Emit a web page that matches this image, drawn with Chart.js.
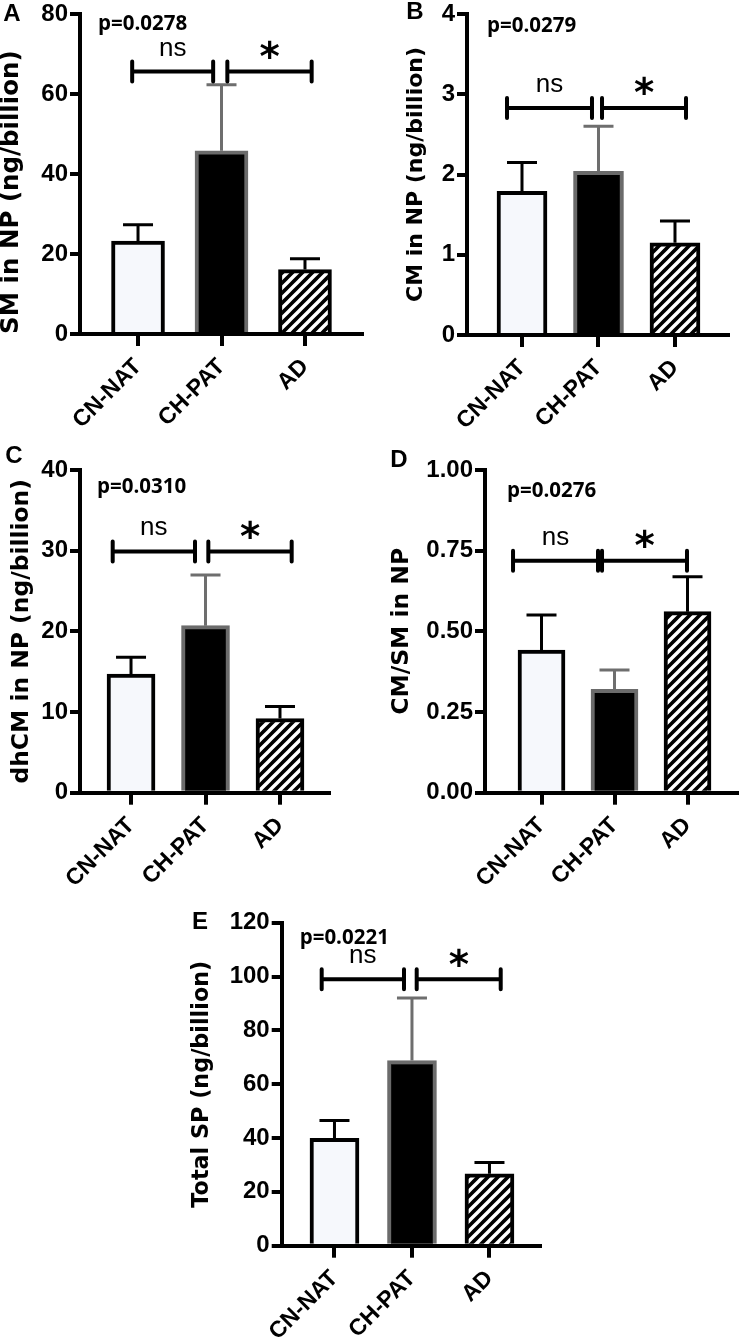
<!DOCTYPE html>
<html><head><meta charset="utf-8">
<script src="https://cdn.jsdelivr.net/npm/chart.js@4.4.1/dist/chart.umd.min.js"></script>
<style>
html,body{margin:0;padding:0;background:#fff;width:739px;height:1344px;overflow:hidden;position:relative}
</style></head><body>
<script>
// ---------- data ----------
const categories = ['CN-NAT', 'CH-PAT', 'AD'];

const smMean = [23.2, 45.8, 16.1];
const smErr = [4.1, 16.5, 2.7];

const cmMean = [1.79, 2.04, 1.15];
const cmErr = [0.36, 0.56, 0.27];

const dhcmMean = [14.7, 20.7, 9.2];
const dhcmErr = [2.1, 6.3, 1.5];

const ratioMean = [0.442, 0.320, 0.561];
const ratioErr = [0.109, 0.060, 0.108];

const totalMean = [39.9, 68.8, 26.7];
const totalErr = [6.6, 23.2, 4.2];

const pValues = ['p=0.0278', 'p=0.0279', 'p=0.0310', 'p=0.0276', 'p=0.0221'];
const sigLabels = ['ns', '*'];
const yTitles = ['SM in NP (ng/billion)', 'CM in NP (ng/billion)', 'dhCM in NP (ng/billion)', 'CM/SM in NP', 'Total SP (ng/billion)'];
const yMax = [80, 4, 40, 1, 120];
const yStep = [20, 1, 10, 0.25, 20];
const yDecimals = [0, 0, 0, 2, 0];
const bracketLevel = [65.6, 2.83, 29.9, 0.719, 99.0];
const panelLetters = ['A', 'B', 'C', 'D', 'E'];

// ---------- layout (pixels) ----------
const layoutCfg = [
  {box:[0,0,370,440], area:[80,12,362,334], xr:[-0.695,2.683], barW:53, tSize:24.5, tAlign:'start', tX:12, letter:[12,14], pOff:[18,16], br:[[-0.07,0.90],[1.07,2.08]]},
  {box:[370,0,369,440], area:[467,12.7,728,335], xr:[-0.719,2.693], barW:50, tSize:22, tAlign:'center', tX:416, letter:[415,12.5], pOff:[20,18], br:[[-0.196,0.915],[1.046,2.144]]},
  {box:[0,440,370,470], area:[80,470,329,792.7], xr:[-0.685,2.658], barW:48, tSize:23.4, tAlign:'center', tX:22, letter:[14,456], pOff:[17,23], br:[[-0.246,0.859],[1.038,2.157]]},
  {box:[370,440,369,470], area:[485,470,737,792.7], xr:[-0.774,2.678], barW:47, tSize:23.4, tAlign:'center', tX:402, letter:[399,460], pOff:[22,27], br:[[-0.39,0.774],[0.829,1.993]]},
  {box:[180,880,380,464], area:[281.7,922.7,540,1245.7], xr:[-0.681,2.652], barW:49, tSize:22.3, tAlign:'center', tX:202, letter:[200,922], pOff:[18,21], br:[[-0.165,0.897],[1.061,2.145]]}
];
const means = [smMean, cmMean, dhcmMean, ratioMean, totalMean];
const errs = [smErr, cmErr, dhcmErr, ratioErr, totalErr];

const SANS = "'Liberation Sans', Arial, sans-serif";

function makeHatch(ctx){
  const t = document.createElement('canvas'); t.width = 10; t.height = 10;
  const g = t.getContext('2d');
  g.fillStyle = '#000'; g.fillRect(0,0,10,10);
  g.strokeStyle = '#fff'; g.lineWidth = 3.4;
  g.beginPath();
  g.moveTo(-2,12); g.lineTo(12,-2);
  g.moveTo(-7,7); g.lineTo(7,-7);
  g.moveTo(3,17); g.lineTo(17,3);
  g.stroke();
  return ctx.createPattern(t, 'repeat');
}

const extras = {
  id: 'extras',
  afterDatasetsDraw(chart){
    const o = chart.options.plugins.extras;
    const ctx = chart.ctx, xs = chart.scales.x, ys = chart.scales.y, ca = chart.chartArea;
    const meta = chart.getDatasetMeta(0);
    ctx.save();
    // error bars
    meta.data.forEach((el, i) => {
      const top = ys.getPixelForValue(o.mean[i] + o.err[i]);
      ctx.strokeStyle = i === 1 ? '#6e6e6e' : '#000';
      ctx.lineWidth = 3; ctx.lineCap = 'butt';
      ctx.beginPath();
      ctx.moveTo(el.x, el.y); ctx.lineTo(el.x, top);
      ctx.moveTo(el.x - 15, top); ctx.lineTo(el.x + 15, top);
      ctx.stroke();
    });
    // brackets
    const by = ys.getPixelForValue(o.level);
    ctx.strokeStyle = '#000'; ctx.lineWidth = 4;
    const centers = [];
    o.br.forEach(([a, b]) => {
      const xa = xs.getPixelForValue(a), xb = xs.getPixelForValue(b);
      centers.push((xa + xb) / 2);
      ctx.lineCap = 'butt';
      ctx.beginPath(); ctx.moveTo(xa, by); ctx.lineTo(xb, by); ctx.stroke();
      ctx.lineCap = 'round';
      ctx.beginPath(); ctx.moveTo(xa, by - 10); ctx.lineTo(xa, by + 10);
      ctx.moveTo(xb, by - 10); ctx.lineTo(xb, by + 10); ctx.stroke();
    });
    ctx.fillStyle = '#000';
    // ns
    ctx.font = '26px ' + SANS; ctx.textAlign = 'center'; ctx.textBaseline = 'alphabetic';
    ctx.fillText(sigLabels[0], centers[0], by - 16);
    // star
    ctx.font = 'bold 100px "DejaVu Sans"';
    let m = ctx.measureText(sigLabels[1]);
    const w100 = m.actualBoundingBoxLeft + m.actualBoundingBoxRight;
    const fs = 100 * 19 / w100;
    ctx.font = 'bold ' + fs + 'px "DejaVu Sans"';
    ctx.textAlign = 'left';
    m = ctx.measureText(sigLabels[1]);
    const sx = centers[1] - (m.actualBoundingBoxRight - m.actualBoundingBoxLeft) / 2;
    const sy = by - 22 + (m.actualBoundingBoxAscent - m.actualBoundingBoxDescent) / 2;
    ctx.fillText(sigLabels[1], sx, sy);
    // p value
    ctx.font = 'bold 20.5px "Open Sans"'; ctx.textAlign = 'left'; ctx.textBaseline = 'alphabetic';
    ctx.fillText(o.p, ca.left + o.pOff[0], ca.top + o.pOff[1]);
    // panel letter
    ctx.font = 'bold 24px ' + SANS; ctx.textAlign = 'center'; ctx.textBaseline = 'middle';
    ctx.fillText(o.letter, o.letterPos[0], o.letterPos[1]);
    ctx.restore();
  }
};

function makePanel(k){
  const c = layoutCfg[k];
  const [bl, bt, bw, bh] = c.box;
  const cv = document.createElement('canvas');
  cv.width = bw; cv.height = bh;
  cv.style.cssText = 'position:absolute;left:' + bl + 'px;top:' + bt + 'px;width:' + bw + 'px;height:' + bh + 'px';
  document.body.appendChild(cv);
  const ctx = cv.getContext('2d');
  const hatch = makeHatch(ctx);
  const L = c.area[0] - bl, T = c.area[1] - bt, R = c.area[2] - bl, B = c.area[3] - bt;
  const dec = yDecimals[k];
  new Chart(cv, {
    type: 'bar',
    data: {
      datasets: [{
        data: means[k].map((v, i) => ({x: i, y: v})),
        backgroundColor: ['#f6f8fc', '#000000', hatch],
        borderColor: ['#000000', '#6b6b6b', '#000000'],
        borderWidth: 4,
        barThickness: c.barW
      }]
    },
    options: {
      responsive: false, animation: false,
      layout: {padding: {left: 0, top: T, right: bw - R, bottom: 0}},
      plugins: {
        legend: {display: false}, tooltip: {enabled: false},
        extras: {mean: means[k], err: errs[k], level: bracketLevel[k], br: c.br, p: pValues[k], pOff: c.pOff,
                 letter: panelLetters[k], letterPos: [c.letter[0] - bl, c.letter[1] - bt]}
      },
      scales: {
        x: {
          type: 'linear', min: c.xr[0], max: c.xr[1], offset: false,
          afterBuildTicks: s => { s.ticks = categories.map((_, i) => ({value: i})); },
          afterFit: s => { s.height = bh - B; },
          ticks: {callback: v => categories[v], minRotation: 45, maxRotation: 45, autoSkip: false,
                  color: '#000', padding: 9, font: {family: SANS, weight: 'bold', size: 23, lineHeight: 1}},
          grid: {offset: false, drawOnChartArea: false, drawTicks: true, tickLength: 12, lineWidth: 4, color: '#000'},
          border: {display: true, width: 4, color: '#000'}
        },
        y: {
          min: 0, max: yMax[k],
          afterFit: s => { s.width = L; },
          ticks: {stepSize: yStep[k], callback: v => Number(v).toFixed(dec), color: '#000', padding: 2,
                  font: {family: SANS, weight: 'bold', size: 24, lineHeight: 1}},
          grid: {drawOnChartArea: false, drawTicks: true, tickLength: 10, lineWidth: 4, color: '#000'},
          border: {display: true, width: 4, color: '#000'},
          title: {display: true, text: yTitles[k], color: '#000', align: c.tAlign,
                  font: {family: '"DejaVu Sans"', weight: 'bold', size: c.tSize, lineHeight: 1},
                  padding: {top: c.tX - bl - c.tSize / 2, bottom: 0}}
        }
      }
    },
    plugins: [extras]
  });
}
for (let k = 0; k < 5; k++) makePanel(k);
</script>
</body></html>
